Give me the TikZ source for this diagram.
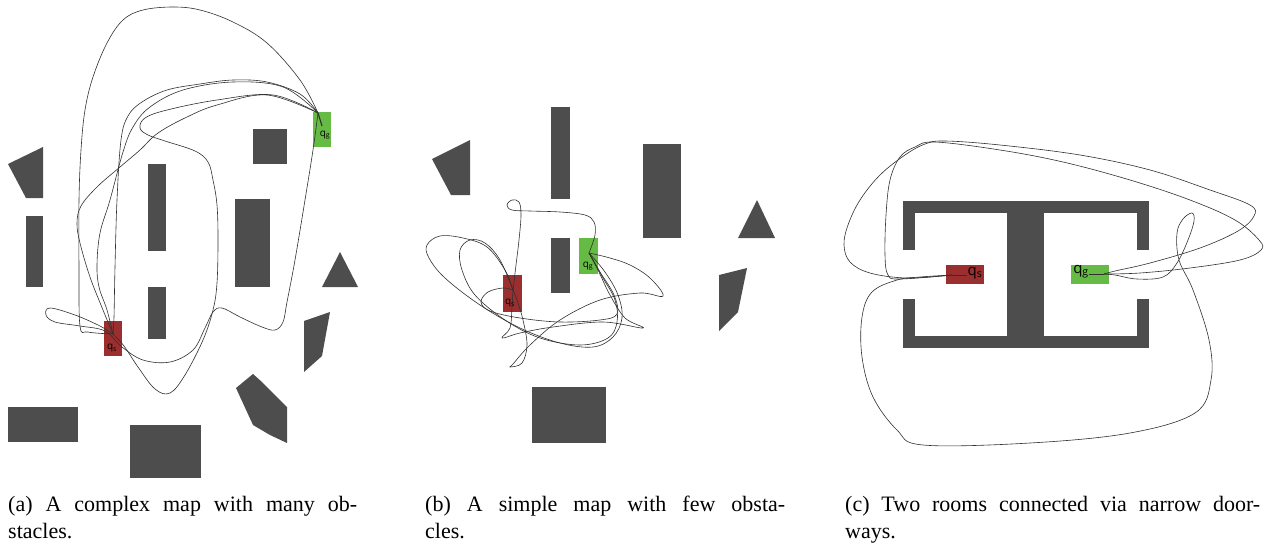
\documentclass[tikz,border=0pt]{standalone}
\usepackage{fontspec}
\setmainfont{Liberation Serif}
\newfontfamily\labelfont{Open Sans}
\definecolor{obst}{HTML}{4D4D4D}
\definecolor{startred}{HTML}{9B2F2F}
\definecolor{goalgreen}{HTML}{66BB44}
\definecolor{trajcol}{HTML}{303030}
\begin{document}
\begin{tikzpicture}[x=1pt,y=-1pt,
  obstacle/.style={fill=obst},
  startbox/.style={fill=startred},
  goalbox/.style={fill=goalgreen},
  traj/.style={draw=trajcol, line width=0.6pt, line join=round},
  qlabel/.style={inner sep=0pt, text=black, font=\labelfont\fontsize{10}{12}\selectfont},
  qlabelbig/.style={qlabel, font=\labelfont\fontsize{15}{18}\selectfont},
  caption/.style={anchor=base west, inner sep=0pt, font=\fontsize{22}{27}\selectfont}]

\useasboundingbox (0,0) rectangle (1279,544);

% ---------------- (a) complex map ----------------
\fill[obstacle] (8,164) -- (43,147) -- (43,198) -- (26,198) -- cycle;
\fill[obstacle] (26,216) rectangle (43,287);
\fill[obstacle] (148,164) rectangle (166,251);
\fill[obstacle] (148,287) rectangle (166,339);
\fill[obstacle] (253,129) rectangle (287,164);
\fill[obstacle] (235,199) rectangle (270,287);
\fill[obstacle] (340,252) -- (358,287) -- (322,287) -- cycle;
\fill[obstacle] (304,321) -- (330,312) -- (322,356) -- (304,372) -- cycle;
\fill[obstacle] (236,388) -- (253,374) -- (262,382) -- (270,390) -- (287,407)
  -- (287,443) -- (270,435) -- (253,425) -- cycle;
\fill[obstacle] (8,407) rectangle (78,442);
\fill[obstacle] (130,425) rectangle (201,478);

\fill[goalbox] (313,112) rectangle (331,147);
\fill[startbox] (104,321) rectangle (122,356);
\coordinate (ga) at (318,113);
\coordinate (gatip) at (322,126);
\coordinate (sa) at (113,334);

% outer loop over the top
\draw[traj] plot[smooth, tension=0.6] coordinates {(ga) (300,80) (267,43) (233,22)
  (200,10) (173,7) (143,10) (123,20) (107,43) (93,77) (85,110) (81,150) (79,200)
  (79,267) (80,326) (88,332) (sa)};
% down the right side, back with a loop on the left
\draw[traj] plot[smooth, tension=0.6] coordinates {(ga) (313,150) (305,200) (295,260)
  (287,302) (283,322) (275,330) (262,327) (240,317) (222,308) (213,312) (205,328)
  (193,350) (170,362) (143,360) (122,347) (105,331) (80,326) (55,322) (46,315)
  (50,308) (75,315) (100,326) (sa)};
% around the central column
\draw[traj] plot[smooth, tension=0.6] coordinates {(ga) (273,95) (217,100) (167,110)
  (145,118) (140,128) (148,135) (165,141) (195,151) (208,162) (213,180) (217,205)
  (218,240) (217,283) (213,310) (203,340) (185,375) (170,393) (155,389) (138,367)
  (124,346) (sa)};
% tall straight run on the left of the centre
\draw[traj] plot[smooth, tension=0.6] coordinates {(sa) (114,317) (115,267) (117,200)
  (121,140) (128,116) (142,102) (167,90) (200,84) (233,80) (267,82) (300,94) (ga)};
% wide swing to the left
\draw[traj] plot[smooth, tension=0.6] coordinates {(sa) (103,310) (90,277) (80,243)
  (77,223) (81,206) (97,187) (120,167) (140,150) (158,133) (187,117) (217,105)
  (267,95) (ga)};
\draw[traj] plot[smooth, tension=0.6] coordinates {(sa) (107,310) (99,287) (97,265)
  (100,233) (110,200) (123,152) (133,127) (150,107) (183,90) (233,82) (283,87) (ga)};
\draw[trajcol, line width=1.1pt] (ga) -- (gatip);

% ---------------- (b) simple map ----------------
\fill[obstacle] (432,159) -- (470,140) -- (470,195) -- (451,195) -- cycle;
\fill[obstacle] (551,107) rectangle (570,199);
\fill[obstacle] (551,238) rectangle (570,293);
\fill[obstacle] (643,144) rectangle (681,238);
\fill[obstacle] (757,200) -- (775,238) -- (738,238) -- cycle;
\fill[obstacle] (719,275) -- (747,268) -- (738,312) -- (719,331) -- cycle;
\fill[obstacle] (532,387) rectangle (606,443);

\fill[goalbox] (579,238) rectangle (598,274);
\fill[startbox] (503,275) rectangle (522,312);
\coordinate (gb) at (589,253);
\coordinate (sb) at (513,290);

\draw[traj] plot[smooth, tension=0.6] coordinates {(gb) (595,235) (594,222) (585,215)
  (560,212) (530,211) (512,210) (507,205) (512,200) (519,202) (521,215) (519,240)
  (516,265) (sb)};
\draw[traj] plot[smooth, tension=0.6] coordinates {(sb) (512,307) (510,328) (502,338)
  (520,333) (553,327) (603,322) (643,328) (625,318) (610,295) (598,270) (gb)};
\draw[traj] plot[smooth, tension=0.6] coordinates {(sb) (505,270) (487,247) (463,238)
  (440,236) (427,245) (429,258) (445,278) (480,305) (520,328) (560,343) (593,347)
  (613,337) (622,318) (618,295) (605,272) (gb)};
\draw[traj] plot[smooth, tension=0.6] coordinates {(sb) (500,260) (485,243) (470,240)
  (460,250) (462,270) (475,295) (505,320) (540,338) (580,345) (608,338) (617,322)
  (615,300) (603,278) (gb)};
\draw[traj] plot[smooth, tension=0.6] coordinates {(gb) (610,258) (630,265) (650,278)
  (663,296) (640,293) (600,300) (560,320) (530,345) (513,364) (510,367) (522,363)
  (527,345) (523,320) (517,300) (sb)};
\draw[traj] plot[smooth, tension=0.6] coordinates {(sb) (503,288) (488,292) (481,302)
  (490,311) (520,318) (560,322) (600,320) (617,314) (614,295) (600,272) (gb)};

% ---------------- (c) two rooms ----------------
\fill[obstacle] (903,201) rectangle (1149,213);
\fill[obstacle] (903,336) rectangle (1149,348);
\fill[obstacle] (903,201) rectangle (915,250);
\fill[obstacle] (903,299) rectangle (915,348);
\fill[obstacle] (1137,201) rectangle (1149,250);
\fill[obstacle] (1137,299) rectangle (1149,348);
\fill[obstacle] (1007,201) rectangle (1044,348);

\fill[startbox] (946,265) rectangle (984,284);
\fill[goalbox] (1071,265) rectangle (1109,284);
\coordinate (sc) at (952,275);
\coordinate (gc) at (1104,274);

\draw[traj] plot[smooth, tension=0.6] coordinates {(sc) (907,278) (870,273) (850,262)
  (844,245) (848,225) (860,200) (880,175) (905,155) (925,144) (945,141) (1000,145)
  (1080,155) (1150,170) (1210,190) (1250,205) (1254,216) (1238,231) (1200,248)
  (1150,263) (1115,271) (gc)};
\draw[traj] plot[smooth, tension=0.6] coordinates {(sc) (900,279) (888,275) (885,255)
  (886,215) (890,180) (900,157) (915,147) (935,142) (1000,150) (1063,162) (1130,180)
  (1190,200) (1235,220) (1259,240) (1261,250) (1240,260) (1190,268) (1140,273) (gc)};
\draw[traj] plot[smooth, tension=0.6] coordinates {(sc) (920,277) (897,280) (872,292)
  (862,317) (862,357) (873,397) (897,430) (923,445) (1030,443) (1130,433) (1195,413)
  (1211,380) (1209,340) (1193,290) (1179,260) (1177,233) (1183,219) (1192,213)
  (1194,221) (1188,240) (1177,263) (1163,277) (1137,279) (1115,275) (gc)};

% ---------------- labels ----------------
\node[qlabel] (qga) at (325,135) {q\textsubscript{g}};
\node[qlabel] (qsa) at (112,348) {q\textsubscript{s}};
\node[qlabel] (qgb) at (588,266) {q\textsubscript{g}};
\node[qlabel] (qsb) at (510,303) {q\textsubscript{s}};
\node[qlabelbig] (qsc) at (975,273) {q\textsubscript{s}};
\node[qlabelbig] (qgc) at (1081,272) {q\textsubscript{g}};
\draw[trajcol, line width=0.9pt] (sc) -- (qsc.west |- sc);
\draw[trajcol, line width=0.9pt] (qgc.east |- gc) -- (gc);

% ---------------- captions ----------------
\node[caption] (capa1) at (8,511) {\makebox[349pt][s]{(a) A complex map with many ob-}};
\node[caption] (capa2) at (8,538) {stacles.};
\node[caption] (capb1) at (425,511) {\makebox[360pt][s]{(b) A simple map with few obsta-}};
\node[caption] (capb2) at (425,538) {cles.};
\node[caption] (capc1) at (845,511) {\makebox[415pt][s]{(c) Two rooms connected via narrow door-}};
\node[caption] (capc2) at (845,538) {ways.};
\end{tikzpicture}
\end{document}
